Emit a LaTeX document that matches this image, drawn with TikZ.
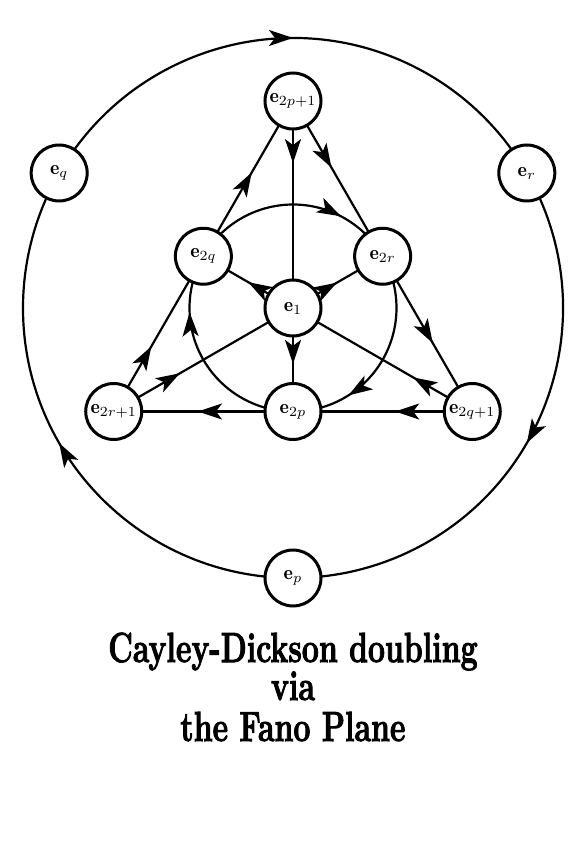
\documentclass[tikz,border=0pt]{standalone}
\usepackage{amsmath,amssymb}
\usepackage{fontspec}
\usetikzlibrary{arrows.meta,decorations.markings,backgrounds}
\newfontfamily\titlefont[FakeBold=2.5]{Latin Modern Roman}

\tikzset{
  fano/.style={circle,draw,line width=1.5pt,fill=white,minimum size=28pt,inner sep=0pt},
  arrowat/.style={line width=1.1pt,postaction={decorate},decoration={markings,
    mark=at position #1 with {\arrow{Stealth[length=12pt,width=8pt,inset=3pt]}}}},
  titletext/.style={anchor=base,font=\fontsize{21}{21}\selectfont}
}

\begin{document}
\begin{tikzpicture}[x=0.5pt,y=0.5pt]
\useasboundingbox (-293,-538) rectangle (294,308);
% the points of the plane: centre, triangle, midpoints, and the outer three
\node[fano] (e1)   at (0,0)        {$\mathbf{e}_{1}$};
\node[fano] (e2p1) at (90:207)     {$\mathbf{e}_{2p+1}$};
\node[fano] (e2r1) at (210:207)    {$\mathbf{e}_{2r+1}$};
\node[fano] (e2q1) at (330:207)    {$\mathbf{e}_{2q+1}$};
\node[fano] (e2q)  at (150:103.5)  {$\mathbf{e}_{2q}$};
\node[fano] (e2r)  at (30:103.5)   {$\mathbf{e}_{2r}$};
\node[fano] (e2p)  at (270:103.5)  {$\mathbf{e}_{2p}$};
\node[fano] (eq)   at (150:270)    {$\mathbf{e}_{q}$};
\node[fano] (er)   at (30:270)     {$\mathbf{e}_{r}$};
\node[fano] (ep)   at (270:270)    {$\mathbf{e}_{p}$};
\begin{scope}[on background layer]
  % outer circle, clockwise
  \draw[arrowat=0.5] (eq.center) arc[start angle=150,end angle=30,radius=135pt];
  \draw[arrowat=0.5] (er.center) arc[start angle=30,end angle=-90,radius=135pt];
  \draw[arrowat=0.5] (ep.center) arc[start angle=-90,end angle=-210,radius=135pt];
  % inner circle through the midpoints
  \draw[arrowat=0.73] (e2q.center) arc[start angle=150,end angle=30,radius=51.75pt];
  \draw[arrowat=0.73] (e2r.center) arc[start angle=30,end angle=-90,radius=51.75pt];
  \draw[arrowat=0.73] (e2p.center) arc[start angle=-90,end angle=-210,radius=51.75pt];
  % sides of the triangle
  \draw[arrowat=0.43] (e2p1.center) -- (e2r.center);
  \draw[arrowat=0.56] (e2r.center) -- (e2q1.center);
  \draw[arrowat=0.43] (e2q1.center) -- (e2p.center);
  \draw[arrowat=0.53] (e2p.center) -- (e2r1.center);
  \draw[arrowat=0.42] (e2r1.center) -- (e2q.center);
  \draw[arrowat=0.54] (e2q.center) -- (e2p1.center);
  % the three lines through e1
  \draw[arrowat=0.30] (e2p1.center) -- (e1.center);
  \draw[arrowat=0.54] (e1.center) -- (e2p.center);
  \draw[arrowat=0.37] (e2r1.center) -- (e1.center);
  \draw[arrowat=0.49] (e1.center) -- (e2r.center);
  \draw[arrowat=0.33] (e2q1.center) -- (e1.center);
  \draw[arrowat=0.50] (e1.center) -- (e2q.center);
\end{scope}
\node[titletext] (title)  at (0,-354) {\scalebox{0.72}[1]{\titlefont\bfseries Cayley-Dickson doubling}};
\node[titletext] (via)    at (0,-392) {\scalebox{0.72}[1]{\titlefont\bfseries via}};
\node[titletext] (fano)   at (0,-433) {\scalebox{0.72}[1]{\titlefont\bfseries the Fano Plane}};
\end{tikzpicture}
\end{document}
